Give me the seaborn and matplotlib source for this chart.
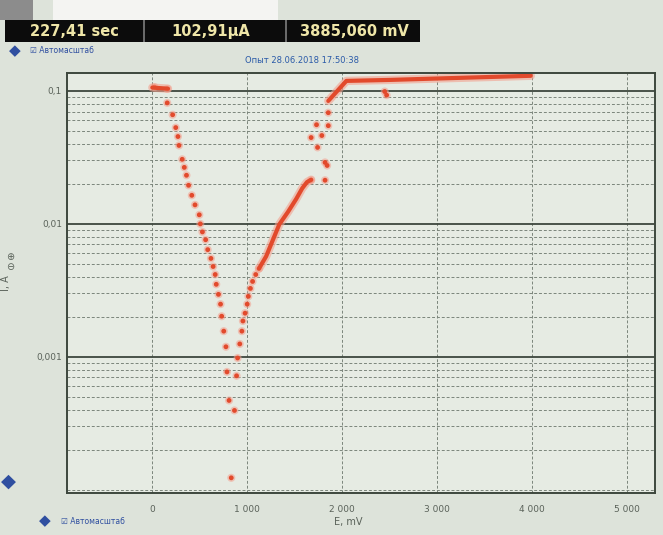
import matplotlib
matplotlib.use("Agg")
import matplotlib.pyplot as plt
import seaborn as sns
import pandas as pd
from matplotlib.patches import Rectangle
from matplotlib.ticker import FixedLocator, NullFormatter

# Colours
BG = '#dde3da'
PANEL = '#e6ebe3'
GRID_MAJOR = '#3d473d'
GRID_MINOR = '#7b857b'
DOT = '#e24a2c'
READOUT = '#efe6a8'

# Sparse measurement points (E in mV, I in A)
dots_E = [22, 157, 157, 214, 247, 270, 281, 315, 337, 360, 382, 416, 450, 495,
          506, 528, 562, 584, 618, 641, 663, 674, 697, 719, 731, 753, 776, 787,
          809, 832,
          866, 888, 899, 922, 944, 955, 978, 1000, 1012, 1034, 1057, 1090, 1124,
          1674, 1855, 1855, 1731, 1674, 1787, 1742, 1821, 1843, 1821,
          2450, 2470]
dots_I = [0.107, 0.1035, 0.0813, 0.0662, 0.053, 0.0454, 0.0389, 0.0306, 0.0266,
          0.0232, 0.0195, 0.0164, 0.0139, 0.0117, 0.0100, 0.0087, 0.0076, 0.0064,
          0.0055, 0.00478, 0.00416, 0.00351, 0.00295, 0.00249, 0.00202, 0.00156,
          0.00119, 0.00077, 0.00047, 0.000123,
          0.000395, 0.00072, 0.00098, 0.00125, 0.00156, 0.00186, 0.00213,
          0.00249, 0.00285, 0.00327, 0.00369, 0.00416, 0.00461,
          0.0213, 0.0686, 0.0548, 0.0557, 0.0446, 0.0462, 0.0376, 0.029,
          0.0275, 0.0213,
          0.0990, 0.0930]

# Dense stretches that read as thick lines
start_E = [0, 80, 165]
start_I = [0.106, 0.105, 0.104]
rise_E = [1124, 1200, 1338, 1430, 1517, 1580, 1630, 1674]
rise_I = [0.00461, 0.0057, 0.00990, 0.0123, 0.0154, 0.0185, 0.0206, 0.0215]
top_E = [1855, 1950, 2046, 2500, 3000, 3500, 3990]
top_I = [0.0841, 0.100, 0.119, 0.121, 0.124, 0.127, 0.130]

x_ticks = [0, 1000, 2000, 3000, 4000, 5000]
x_labels = ['0', '1 000', '2 000', '3 000', '4 000', '5 000']
y_ticks = [0.001, 0.01, 0.1]
y_labels = ['0,001', '0,01', '0,1']

readouts = ['227,41 sec', '102,91µA', '3885,060 mV']

sns.set_theme(style='white')
plt.rcParams['font.family'] = ['DejaVu Sans']

fig = plt.figure(figsize=(6.63, 5.35), dpi=100, facecolor=BG)
ax = fig.add_axes([0.101, 0.079, 0.887, 0.785])
ax.set_facecolor(PANEL)

dots = pd.DataFrame({'E': dots_E, 'I': dots_I})
for seg_E, seg_I in [(start_E, start_I), (rise_E, rise_I), (top_E, top_I)]:
    seg = pd.DataFrame({'E': seg_E, 'I': seg_I})
    sns.lineplot(data=seg, x='E', y='I', ax=ax, color='#f3a08e', lw=6,
                 sort=False, estimator=None, alpha=0.6)
    sns.lineplot(data=seg, x='E', y='I', ax=ax, color=DOT, lw=3,
                 sort=False, estimator=None)
sns.scatterplot(data=dots, x='E', y='I', ax=ax, color='#f3a08e', s=34,
                edgecolor='none', alpha=0.55)
sns.scatterplot(data=dots, x='E', y='I', ax=ax, color=DOT, s=12,
                edgecolor='none')

ax.set_yscale('log')
ax.set_xlim(-900, 5300)
ax.set_ylim(0.000095, 0.137)

ax.set_xticks(x_ticks)
ax.set_xticklabels(x_labels)
ax.set_yticks(y_ticks)
ax.set_yticklabels(y_labels)
ax.yaxis.set_minor_locator(FixedLocator(
    [m * d for d in [1e-4, 1e-3, 1e-2] for m in range(2, 10)] + [0.0001]))
ax.yaxis.set_minor_formatter(NullFormatter())
ax.tick_params(axis='both', which='both', length=0, labelsize=6.5,
               colors='#5a625a')
ax.tick_params(axis='x', pad=9)

ax.grid(True, axis='y', which='major', color=GRID_MAJOR, lw=1.3, ls='-')
ax.grid(True, axis='y', which='minor', color=GRID_MINOR, lw=0.7, ls=(0, (3, 2)))
ax.grid(True, axis='x', which='major', color=GRID_MINOR, lw=0.7, ls=(0, (3, 2)))
ax.set_axisbelow(True)
for s in ax.spines.values():
    s.set_color(GRID_MAJOR)
    s.set_linewidth(1.4)

ax.set_xlabel('')
ax.set_ylabel('I, A', fontsize=7, color='#5a625a', labelpad=18)
fig.text(0.525, 0.025, 'E, mV', fontsize=7, color='#5a625a',
         ha='center', va='center')

# Title of the experiment
fig.text(0.455, 0.887, 'Опыт 28.06.2018 17:50:38', fontsize=6,
         color='#2a5aa8', ha='center', va='center')

# Black readout bar
fig.add_artist(Rectangle((0.008, 0.921), 0.625, 0.042, transform=fig.transFigure,
                         facecolor='#0c0c0c', edgecolor='none'))
for xs in [0.216, 0.43]:
    fig.add_artist(Rectangle((xs, 0.921), 0.003, 0.042, transform=fig.transFigure,
                             facecolor='#6a6a6a', edgecolor='none'))
for xc, txt in zip([0.113, 0.318, 0.535], readouts):
    fig.text(xc, 0.941, txt, fontsize=10.5, fontweight='bold', color=READOUT,
             ha='center', va='center')
fig.add_artist(Rectangle((0.08, 0.963), 0.34, 0.037, transform=fig.transFigure,
                         facecolor='#f4f4f2', edgecolor='none'))
fig.add_artist(Rectangle((0.0, 0.963), 0.05, 0.037, transform=fig.transFigure,
                         facecolor='#8c8c8c', edgecolor='none'))

# Autoscale controls
fig.text(0.022, 0.905, '◆', fontsize=11, color='#2f4fa0', ha='center', va='center')
fig.text(0.045, 0.905, '☑ Автомасштаб', fontsize=5.5, color='#2f4fa0',
         ha='left', va='center')
fig.text(0.068, 0.026, '◆', fontsize=11, color='#2f4fa0', ha='center', va='center')
fig.text(0.092, 0.026, '☑ Автомасштаб', fontsize=5.5, color='#2f4fa0',
         ha='left', va='center')
fig.text(0.012, 0.10, '◆', fontsize=14, color='#2f4fa0', ha='center', va='center')
fig.text(0.015, 0.51, '⊕\n⊖', fontsize=7, color='#5a625a', ha='center',
         va='center', linespacing=1.0)

fig.savefig('out.png', dpi=100, facecolor=BG)
